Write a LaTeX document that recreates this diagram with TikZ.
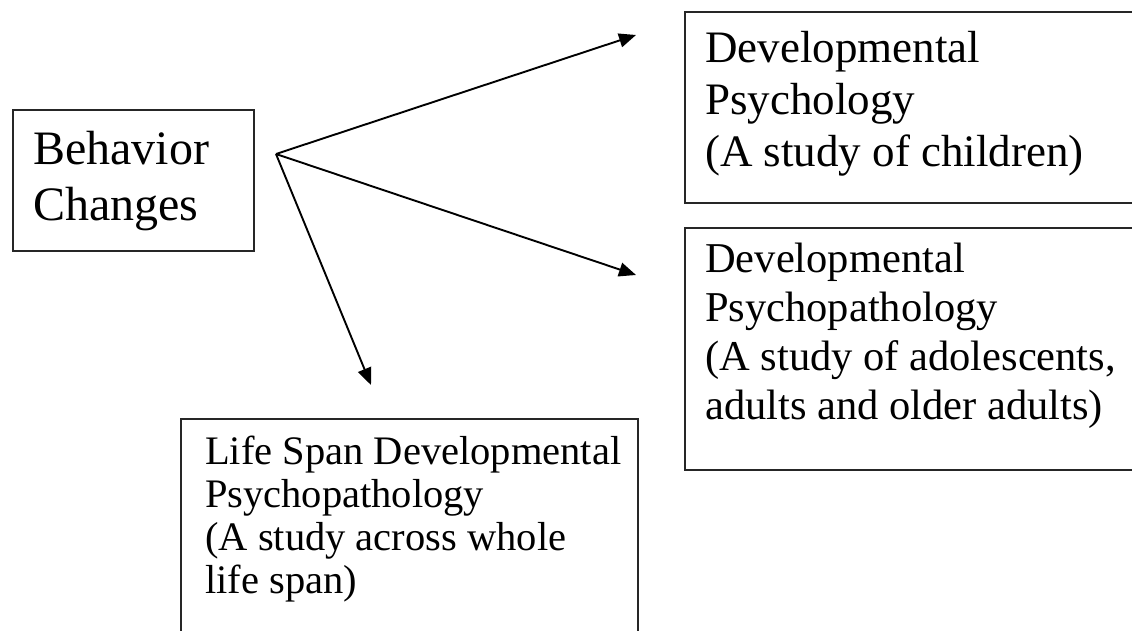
\documentclass[tikz,border=0pt]{standalone}
\usepackage{fontspec}
\setmainfont{Liberation Serif}
\usetikzlibrary{arrows.meta}
\begin{document}
\begin{tikzpicture}[x=1pt,y=-1pt,
  boxline/.style={draw=black!85,line width=1.8pt},
  txt/.style={anchor=base west,align=left,inner sep=0pt},
  conn/.style={line width=1.9pt,-{Triangle[length=17pt,width=14pt]}}]
\useasboundingbox (0,0) rectangle (1132,631);
\clip (0,0) rectangle (1132,631);
% boxes
\node[boxline,anchor=north west,minimum width=241pt,minimum height=141pt,inner sep=0pt] (bc) at (12,109) {};
\node[boxline,anchor=north west,minimum width=470pt,minimum height=191pt,inner sep=0pt] (dp) at (684,11) {};
\node[boxline,anchor=north west,minimum width=470pt,minimum height=242pt,inner sep=0pt] (dpp) at (684,227) {};
\node[boxline,anchor=north west,minimum width=457pt,minimum height=240pt,inner sep=0pt] (ls) at (180,418) {};
% texts
\node[txt,font=\fontsize{48}{55}\selectfont] (bctext) at (33,220) {Behavior\\Changes};
\node[txt,font=\fontsize{45}{52}\selectfont] (dptext) at (705,167) {Developmental\\Psychology\\(A study of children)};
\node[txt,font=\fontsize{42.5}{49}\selectfont] (dpptext) at (705,419) {Developmental\\Psychopathology\\(A study of adolescents,\\adults and older adults)};
\node[txt,font=\fontsize{40.5}{43}\selectfont] (lstext) at (205,593) {Life Span Developmental\\Psychopathology\\(A study across whole\\life span)};
% connectors
\coordinate (o) at (276,154);
\coordinate (t1) at (636,35);
\coordinate (t2) at (636,275);
\coordinate (t3) at (371,385);
\draw[conn] (o) -- (t1);
\draw[conn] (o) -- (t2);
\draw[conn] (o) -- (t3);
\end{tikzpicture}
\end{document}
